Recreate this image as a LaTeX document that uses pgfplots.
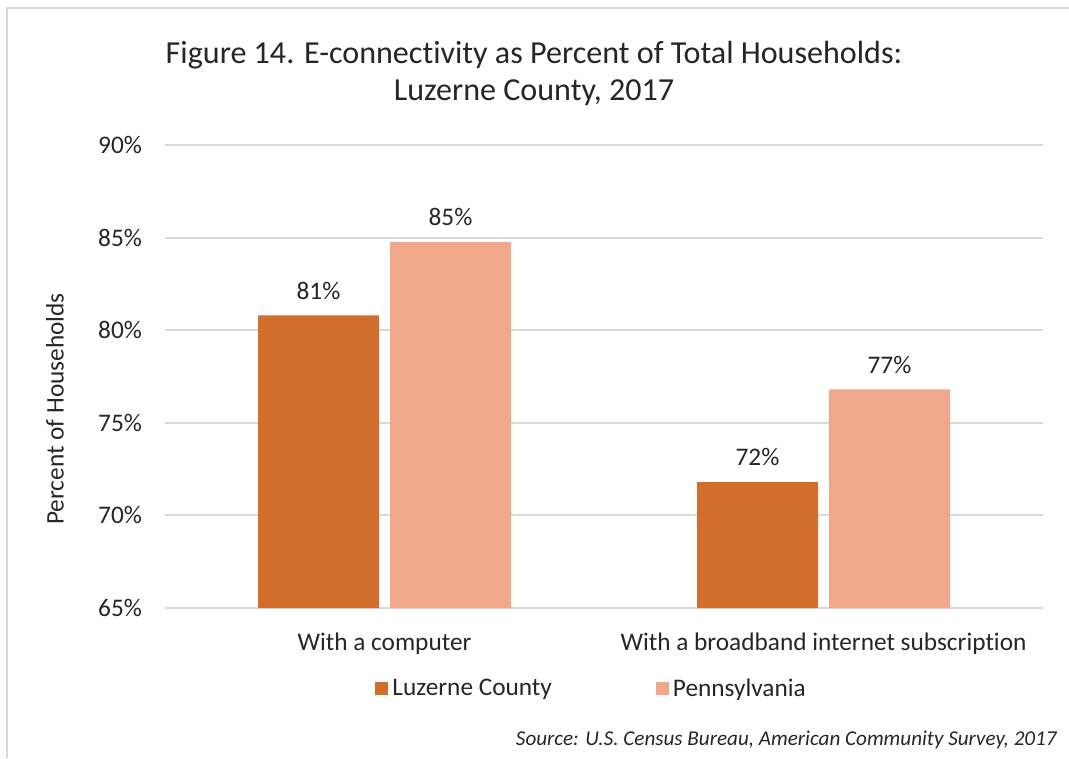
\documentclass[border=0pt]{standalone}
\usepackage{fontspec}
\setmainfont{Carlito}[Ligatures={NoCommon}]
\usepackage{pgfplots}
\pgfplotsset{compat=1.18}
\definecolor{luz}{RGB}{209,110,43}
\definecolor{pa}{RGB}{240,167,138}
\definecolor{gridc}{RGB}{217,217,217}
\definecolor{txt}{RGB}{38,38,38}
\begin{document}
\begin{tikzpicture}[x=1bp,y=1bp]
\useasboundingbox (0,0) rectangle (534.5,379);
\draw[gridc, line width=1.2bp] (3.5,0) -- (3.5,375) -- (534.5,375);
\node[text=txt, font=\fontsize{16.1}{19}\selectfont] at (267,351.5) {Figure 14. E-connectivity as Percent of Total Households:};
\node[text=txt, font=\fontsize{16.1}{19}\selectfont] at (267,332.5) {Luzerne County, 2017};
\node[text=txt, anchor=east, inner sep=0pt, font=\fontsize{10.6}{13}\itshape] at (528.5,9) {Source: U.S. Census Bureau, American Community Survey, 2017};
\begin{axis}[
  at={(82.5bp,75bp)}, anchor=south west, scale only axis,
  width=439bp, height=231.5bp,
  ybar=5.5bp, bar width=60.5bp,
  xmin=-0.5, xmax=1.5, ymin=65, ymax=90,
  ytick={65,70,75,80,85,90},
  yticklabel={\pgfmathprintnumber{\tick}\%},
  xtick={0,1},
  xticklabels={With a computer, With a broadband internet subscription},
  /pgf/number format/assume math mode=true,
  axis line style={draw=none},
  major tick length=0pt,
  ymajorgrids, grid style={gridc, line width=1bp},
  tick label style={text=txt, font=\fontsize{12.7}{15}\selectfont},
  xticklabel style={yshift=-9bp},
  yticklabel style={xshift=-8bp},
  ylabel={Percent of Households},
  ylabel style={at={(axis description cs:-0.1253,0.43)}, anchor=center, text=txt, font=\fontsize{12.7}{15}\selectfont},
  nodes near coords={\pgfmathprintnumber[fixed,precision=0]{\pgfplotspointmeta}\%},
  nodes near coords style={text=txt, font=\fontsize{12.7}{15}\selectfont, anchor=south, yshift=4.5bp},
  legend style={at={(0.487,-0.175)}, anchor=center, draw=none, fill=none,
    legend columns=2, font=\fontsize{12.7}{15}\selectfont, text=txt,
    /tikz/every even column/.append style={column sep=50bp}},
  legend image code/.code={\fill[#1,draw=none] (0bp,-3bp) rectangle (6.5bp,3.5bp);},
]
\addplot[fill=luz, draw=none] coordinates {(0,80.8) (1,71.8)};
\addplot[fill=pa, draw=none] coordinates {(0,84.75) (1,76.8)};
\legend{Luzerne County, Pennsylvania}
\end{axis}
\end{tikzpicture}
\end{document}
